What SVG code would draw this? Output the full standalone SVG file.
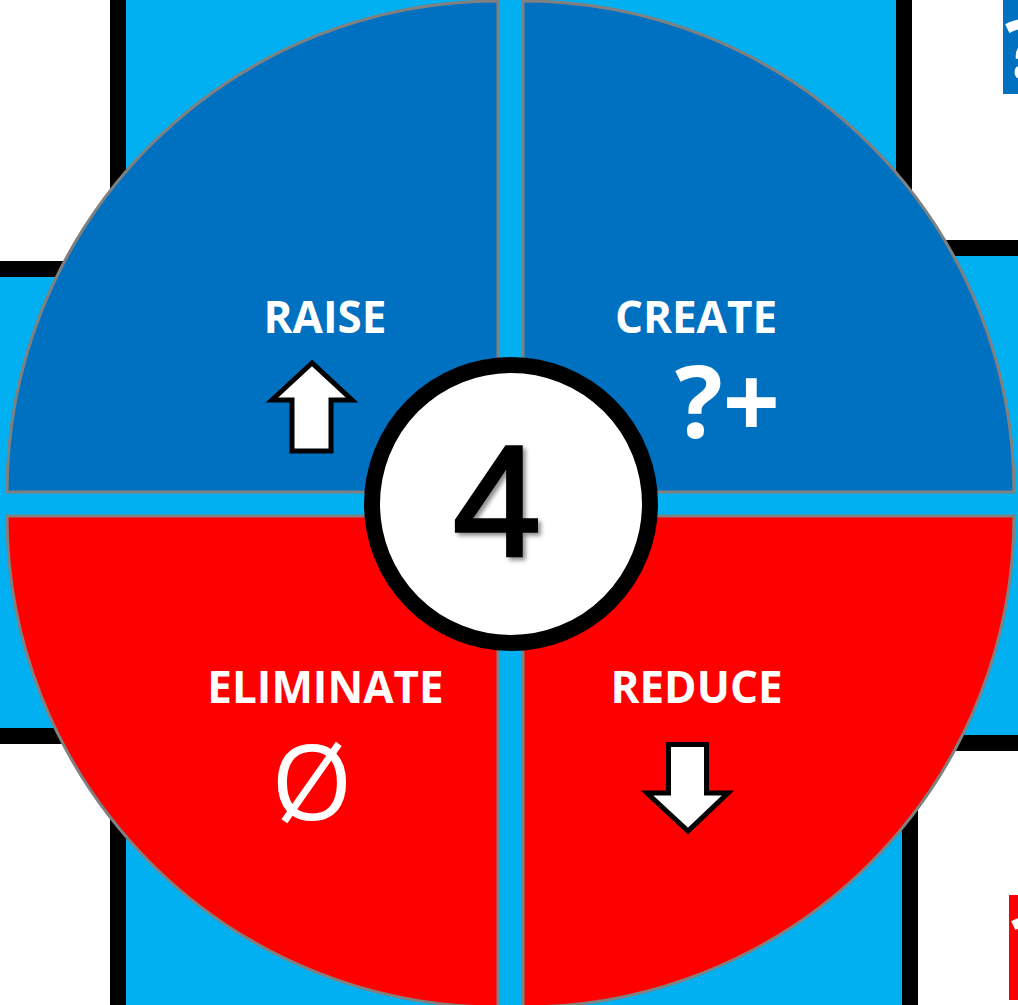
<svg xmlns="http://www.w3.org/2000/svg" width="1018" height="1005" viewBox="0 0 1018 1005">
<defs>
<style>
.panel{fill:#FFFFFF;stroke:#000000;stroke-width:16}
.quad{stroke:#808080;stroke-width:3}
.blue{fill:#0070C0}
.red{fill:#FF0000}
.lbl{font-family:"Open Sans","Liberation Sans",sans-serif;font-weight:700;font-size:44px;fill:#FFFFFF;text-anchor:middle}
.icon{fill:#FFFFFF;stroke:#000000;stroke-width:5;stroke-linejoin:miter}
</style>
<filter id="sh" x="-20%" y="-20%" width="140%" height="140%">
<feDropShadow dx="3" dy="3" stdDeviation="2" flood-color="#000000" flood-opacity="0.45"/>
</filter>
</defs>
<rect x="0" y="0" width="1018" height="1005" fill="#00B0F0"/>
<g id="background-panels">
<rect class="panel" x="-60" y="-60" width="178" height="329"/>
<rect class="panel" x="904" y="-60" width="200" height="308" rx="30"/>
<rect class="panel" x="-60" y="736" width="178" height="340"/>
<rect class="panel" x="910" y="743" width="200" height="340" rx="30"/>
<rect x="1003" y="0" width="30" height="94" fill="#0070C0"/>
<text x="1005" y="78" font-family="Open Sans, Liberation Sans, sans-serif" font-weight="700" font-size="80" fill="#FFFFFF">?</text>
<rect x="1009" y="895" width="30" height="105" fill="#FF0000"/>
<text x="1011" y="975" font-family="Open Sans, Liberation Sans, sans-serif" font-weight="700" font-size="80" fill="#FFFFFF">?</text>
</g>
<g id="connectors"></g>
<g id="raise">
<path class="quad blue" d="M498,492 L7,492 A491,491 0 0 1 498,1 Z"/>
<text class="lbl" x="325" y="333">RAISE</text>
<polygon class="icon" points="312,363 272,400 292,400 292,451 331,451 331,400 352,400"/>
</g>
<g id="create">
<path class="quad blue" d="M523,492 L523,1 A491,491 0 0 1 1014,492 Z"/>
<text class="lbl" x="696" y="333">CREATE</text>
<text x="675" y="438" font-family="Open Sans, Liberation Sans, sans-serif" font-weight="700" font-size="100" fill="#FFFFFF" textLength="105" lengthAdjust="spacingAndGlyphs">?+</text>
</g>
<g id="eliminate">
<path class="quad red" d="M498,516 L498,1007 A491,491 0 0 1 7,516 Z"/>
<text class="lbl" x="325.5" y="703">ELIMINATE</text>
<text x="312" y="820" font-family="Open Sans, Liberation Sans, sans-serif" font-weight="400" font-size="104" fill="#FFFFFF" text-anchor="middle">Ø</text>
</g>
<g id="reduce">
<path class="quad red" d="M523,516 L1014,516 A491,491 0 0 1 523,1007 Z"/>
<text class="lbl" x="696.5" y="703">REDUCE</text>
<polygon class="icon" points="668.5,744.5 706.5,744.5 706.5,793 728,793 688,831 647,793 668.5,793"/>
</g>
<g id="center">
<circle cx="511" cy="504" r="139" fill="#FFFFFF" stroke="#000000" stroke-width="16"/>
<text x="497" y="556" font-family="Liberation Sans, Arial, sans-serif" font-weight="400" font-size="158" fill="#000000" stroke="#000000" stroke-width="3.5" stroke-linejoin="miter" text-anchor="middle" filter="url(#sh)">4</text>
</g>
</svg>
